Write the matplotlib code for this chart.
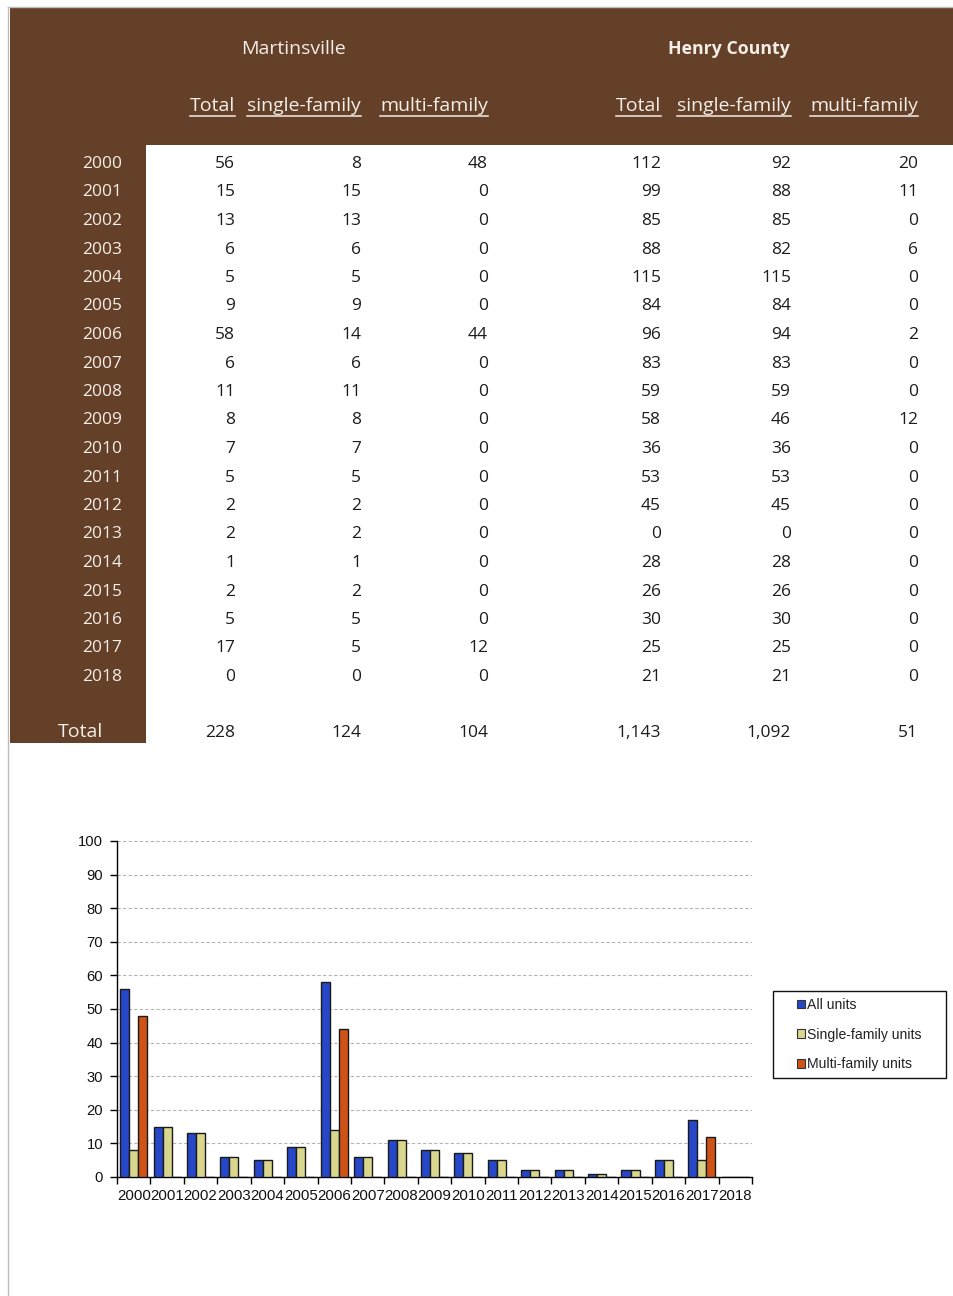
import matplotlib
matplotlib.use("Agg")
import matplotlib.pyplot as plt
from matplotlib.patches import Rectangle, Patch
from matplotlib.lines import Line2D
import numpy as np

# ---- data -------------------------------------------------------------
years = [str(y) for y in range(2000, 2019)]
mville_total = [56, 15, 13, 6, 5, 9, 58, 6, 11, 8, 7, 5, 2, 2, 1, 2, 5, 17, 0]
mville_single = [8, 15, 13, 6, 5, 9, 14, 6, 11, 8, 7, 5, 2, 2, 1, 2, 5, 5, 0]
mville_multi = [48, 0, 0, 0, 0, 0, 44, 0, 0, 0, 0, 0, 0, 0, 0, 0, 0, 12, 0]
henry_total = [112, 99, 85, 88, 115, 84, 96, 83, 59, 58, 36, 53, 45, 0, 28, 26, 30, 25, 21]
henry_single = [92, 88, 85, 82, 115, 84, 94, 83, 59, 46, 36, 53, 45, 0, 28, 26, 30, 25, 21]
henry_multi = [20, 11, 0, 6, 0, 0, 2, 0, 0, 12, 0, 0, 0, 0, 0, 0, 0, 0, 0]

region_names = ["Martinsville", "Henry County"]
column_names = ["Total", "single-family", "multi-family"]
series_names = ["All units", "Single-family units", "Multi-family units"]

# ---- styling ----------------------------------------------------------
BROWN = "#654028"
HEAD_TXT = "#f3eee8"
CELL_TXT = "#1c1c1c"
BAR_COLORS = ["#2747c9", "#d9d68e", "#cf5217"]
TABLE_FONT = "Open Sans"
CHART_FONT = "Liberation Sans"

W, H = 954, 1296
fig = plt.figure(figsize=(W / 100, H / 100), dpi=100)
fig.patch.set_facecolor("white")

# full-page layer in pixel units for the table
bg = fig.add_axes([0, 0, 1, 1])
bg.set_xlim(0, W)
bg.set_ylim(H, 0)
bg.axis("off")

# page border
bg.add_line(Line2D([8.5, 8.5], [7, H], color="#bdbdbd", lw=1))
bg.add_line(Line2D([8.5, W], [7, 7], color="#bdbdbd", lw=1))

# brown header band and year column
bg.add_patch(Rectangle((10, 8), W - 10, 137, color=BROWN, lw=0))
bg.add_patch(Rectangle((10, 145), 136, 598, color=BROWN, lw=0))

col_right = [235, 361, 488, 661, 791, 918]
fs = 12.5
fs_head = 14.0

bg.text(294, 54, region_names[0], ha="center", va="baseline",
        color=HEAD_TXT, fontsize=fs_head, family=TABLE_FONT)
bg.text(729, 54, region_names[1], ha="center", va="baseline",
        color=HEAD_TXT, fontsize=12.8, family=TABLE_FONT, fontweight="bold")

sub_texts = []
for i, x in enumerate(col_right):
    t = bg.text(x, 111, column_names[i % 3], ha="right", va="baseline",
                color=HEAD_TXT, fontsize=fs_head, family=TABLE_FONT)
    sub_texts.append(t)

columns = [mville_total, mville_single, mville_multi,
           henry_total, henry_single, henry_multi]

row0, row_step = 168, 28.5
for r, yr in enumerate(years):
    yb = row0 + r * row_step
    bg.text(122, yb, yr, ha="right", va="baseline", color=HEAD_TXT,
            fontsize=fs, family=TABLE_FONT)
    for c, x in enumerate(col_right):
        bg.text(x, yb, f"{columns[c][r]:,}", ha="right", va="baseline",
                color=CELL_TXT, fontsize=fs, family=TABLE_FONT)

total_y = 737
bg.text(81, total_y, "Total", ha="center", va="baseline", color=HEAD_TXT,
        fontsize=fs_head, family=TABLE_FONT)
for c, x in enumerate(col_right):
    bg.text(x, total_y, f"{sum(columns[c]):,}", ha="right", va="baseline",
            color=CELL_TXT, fontsize=fs, family=TABLE_FONT)

# ---- bar chart --------------------------------------------------------
ax = fig.add_axes([117 / W, 1 - 1177 / H, 635 / W, 336 / H])
ax.set_facecolor("none")
n = len(years)
idx = np.arange(n)
bw = 0.27
for k, (vals, col) in enumerate(zip([mville_total, mville_single, mville_multi],
                                    BAR_COLORS)):
    ax.bar(idx + (k - 1) * bw, vals, width=bw, color=col,
           edgecolor="#1a1a1a", linewidth=1.0, label=series_names[k], zorder=3)

ax.set_xlim(-0.5, n - 0.5)
ax.set_ylim(0, 100)
ax.set_yticks(np.arange(0, 101, 10))
ax.set_xticks(np.arange(n + 1) - 0.5)
ax.set_xticklabels([])
ax.set_xticks(idx, minor=True)
ax.set_xticklabels(years, minor=True)
ax.tick_params(axis="x", which="major", direction="out", length=5, width=1)
ax.tick_params(axis="x", which="minor", length=0, pad=9, labelsize=10.8)
ax.tick_params(axis="y", direction="out", length=5, width=1, pad=5,
               labelsize=10.6)
for lab in ax.get_xticklabels(minor=True) + ax.get_yticklabels():
    lab.set_family(CHART_FONT)
    lab.set_color("#111111")
ax.grid(axis="y", color="#b5b5b5", linestyle=(0, (3, 2)), linewidth=0.8,
        zorder=0)
ax.spines["top"].set_visible(False)
ax.spines["right"].set_visible(False)
ax.spines["left"].set_linewidth(1)
ax.spines["bottom"].set_linewidth(1)

# legend box
bg.add_patch(Rectangle((773.5, 990.5), 173, 87, fill=False,
                       edgecolor="#111111", lw=1))
handles = [Patch(facecolor=c, edgecolor="#333333", linewidth=0.8)
           for c in BAR_COLORS]
leg = fig.legend(handles, series_names, loc="upper left",
                 bbox_to_anchor=(797 / W, 1 - 998 / H), frameon=False,
                 prop={"family": CHART_FONT, "size": 10.1},
                 handlelength=0.58, handleheight=0.58, handletextpad=0.12,
                 labelspacing=1.12, borderpad=0, borderaxespad=0)
for t in leg.get_texts():
    t.set_color("#222222")

# underline the column headings
fig.canvas.draw()
renderer = fig.canvas.get_renderer()
inv = bg.transData.inverted()
for t in sub_texts:
    bb = t.get_window_extent(renderer)
    (x0, _), (x1, _) = inv.transform([(bb.x0, bb.y0), (bb.x1, bb.y1)])
    bg.add_line(Line2D([x0, x1], [115.5, 115.5], color=HEAD_TXT, lw=1.1))

fig.savefig("out.png", dpi=100, facecolor="white")
